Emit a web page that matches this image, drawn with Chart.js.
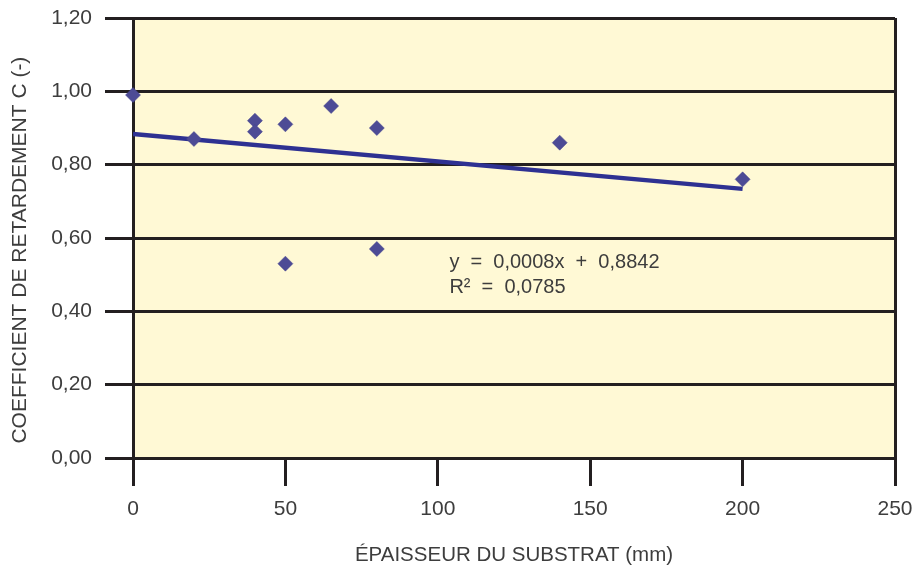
<!DOCTYPE html>
<html>
<head>
<meta charset="utf-8">
<script src="https://cdn.jsdelivr.net/npm/chart.js@4"></script>
<style>
  html, body { margin: 0; padding: 0; background: #fff; }
  #wrap { width: 917px; height: 566px; }
</style>
</head>
<body>
<div id="wrap"><canvas id="c" width="917" height="566"></canvas></div>
<script>
// épaisseur du substrat (mm) et coefficient de retardement
const epaisseur = [0, 20, 40, 40, 50, 50, 65, 80, 80, 140, 200];
const coefficient = [0.99, 0.87, 0.92, 0.89, 0.91, 0.53, 0.96, 0.90, 0.57, 0.86, 0.76];

// courbe de tendance
const trendX = [0, 200];
const trendY = [0.884, 0.734];

const equationLines = ["y  =  0,0008x  +  0,8842", "R²  =  0,0785"];
const yTitle = "COEFFICIENT DE RETARDEMENT C (-)";
const xTitle = "ÉPAISSEUR DU SUBSTRAT (mm)";

const FONT = "'Liberation Sans', Arial, sans-serif";
const TEXT = "#3d3d3d";
const INK = "#231f20";

const fmt = v => v.toFixed(2).replace(".", ",");

// fond jaune de la zone de tracé, titre vertical et équation
const extras = {
  id: "extras",
  beforeDraw(chart) {
    const a = chart.chartArea, ctx = chart.ctx;
    ctx.save();
    ctx.fillStyle = "#fff9d5";
    ctx.fillRect(a.left, a.top, a.right - a.left, a.bottom - a.top);
    ctx.restore();
  },
  afterDraw(chart) {
    const ctx = chart.ctx;
    ctx.save();
    ctx.fillStyle = TEXT;
    ctx.font = "20px " + FONT;
    ctx.textBaseline = "middle";
    const x = chart.scales.x.getPixelForValue(103.8);
    const y = chart.scales.y.getPixelForValue(0.534);
    equationLines.forEach((t, i) => ctx.fillText(t, x, y + i * 25));

    // titre de l'axe vertical
    ctx.font = "21px " + FONT;
    ctx.textAlign = "center";
    ctx.translate(20, chart.scales.y.getPixelForValue(0.567));
    ctx.rotate(-Math.PI / 2);
    ctx.fillText(yTitle, 0, 0);
    ctx.restore();
  }
};

new Chart(document.getElementById("c"), {
  type: "scatter",
  data: {
    datasets: [
      {
        label: "Mesures",
        data: epaisseur.map((x, i) => ({ x: x, y: coefficient[i] })),
        pointStyle: "rectRot",
        pointRadius: 7.5,
        pointBackgroundColor: "#4d4b95",
        pointBorderColor: "#45438e",
        pointBorderWidth: 0.5,
        clip: false,
        order: 1
      },
      {
        label: "Tendance",
        type: "line",
        data: trendX.map((x, i) => ({ x: x, y: trendY[i] })),
        borderColor: "#2e3192",
        borderWidth: 4.5,
        pointRadius: 0,
        fill: false,
        order: 2
      }
    ]
  },
  options: {
    responsive: false,
    animation: false,
    devicePixelRatio: 1,
    layout: { padding: { left: 4, right: 0, top: 0, bottom: 0 } },
    plugins: { legend: { display: false }, tooltip: { enabled: false } },
    scales: {
      x: {
        type: "linear",
        min: 0, max: 250,
        ticks: {
          stepSize: 50,
          color: TEXT,
          font: { family: FONT, size: 21 },
          padding: 11
        },
        grid: {
          color: c => (c.tick && (c.tick.value === 0 || c.tick.value === 250)) ? INK : "rgba(0,0,0,0)",
          tickColor: INK,
          lineWidth: 3,
          tickLength: 28
        },
        border: { display: false },
        title: {
          display: true,
          text: xTitle,
          color: TEXT,
          font: { family: FONT, size: 20.5, lineHeight: 1 },
          padding: { top: 0, bottom: 0 }
        },
        afterFit(s) {
          s.height = 108;
          s.paddingRight = 22;
          s.paddingLeft = 0;
        }
      },
      y: {
        min: 0, max: 1.2,
        ticks: {
          stepSize: 0.2,
          color: TEXT,
          font: { family: FONT, size: 21 },
          padding: 13,
          callback: v => fmt(v)
        },
        grid: {
          color: INK,
          lineWidth: 3,
          tickLength: 28
        },
        border: { display: true, color: INK, width: 3 },
        title: { display: false },
        afterFit(s) {
          s.width = 129;
          s.paddingTop = 18;
          s.paddingBottom = 0;
        }
      }
    }
  },
  plugins: [extras]
});
</script>
</body>
</html>
